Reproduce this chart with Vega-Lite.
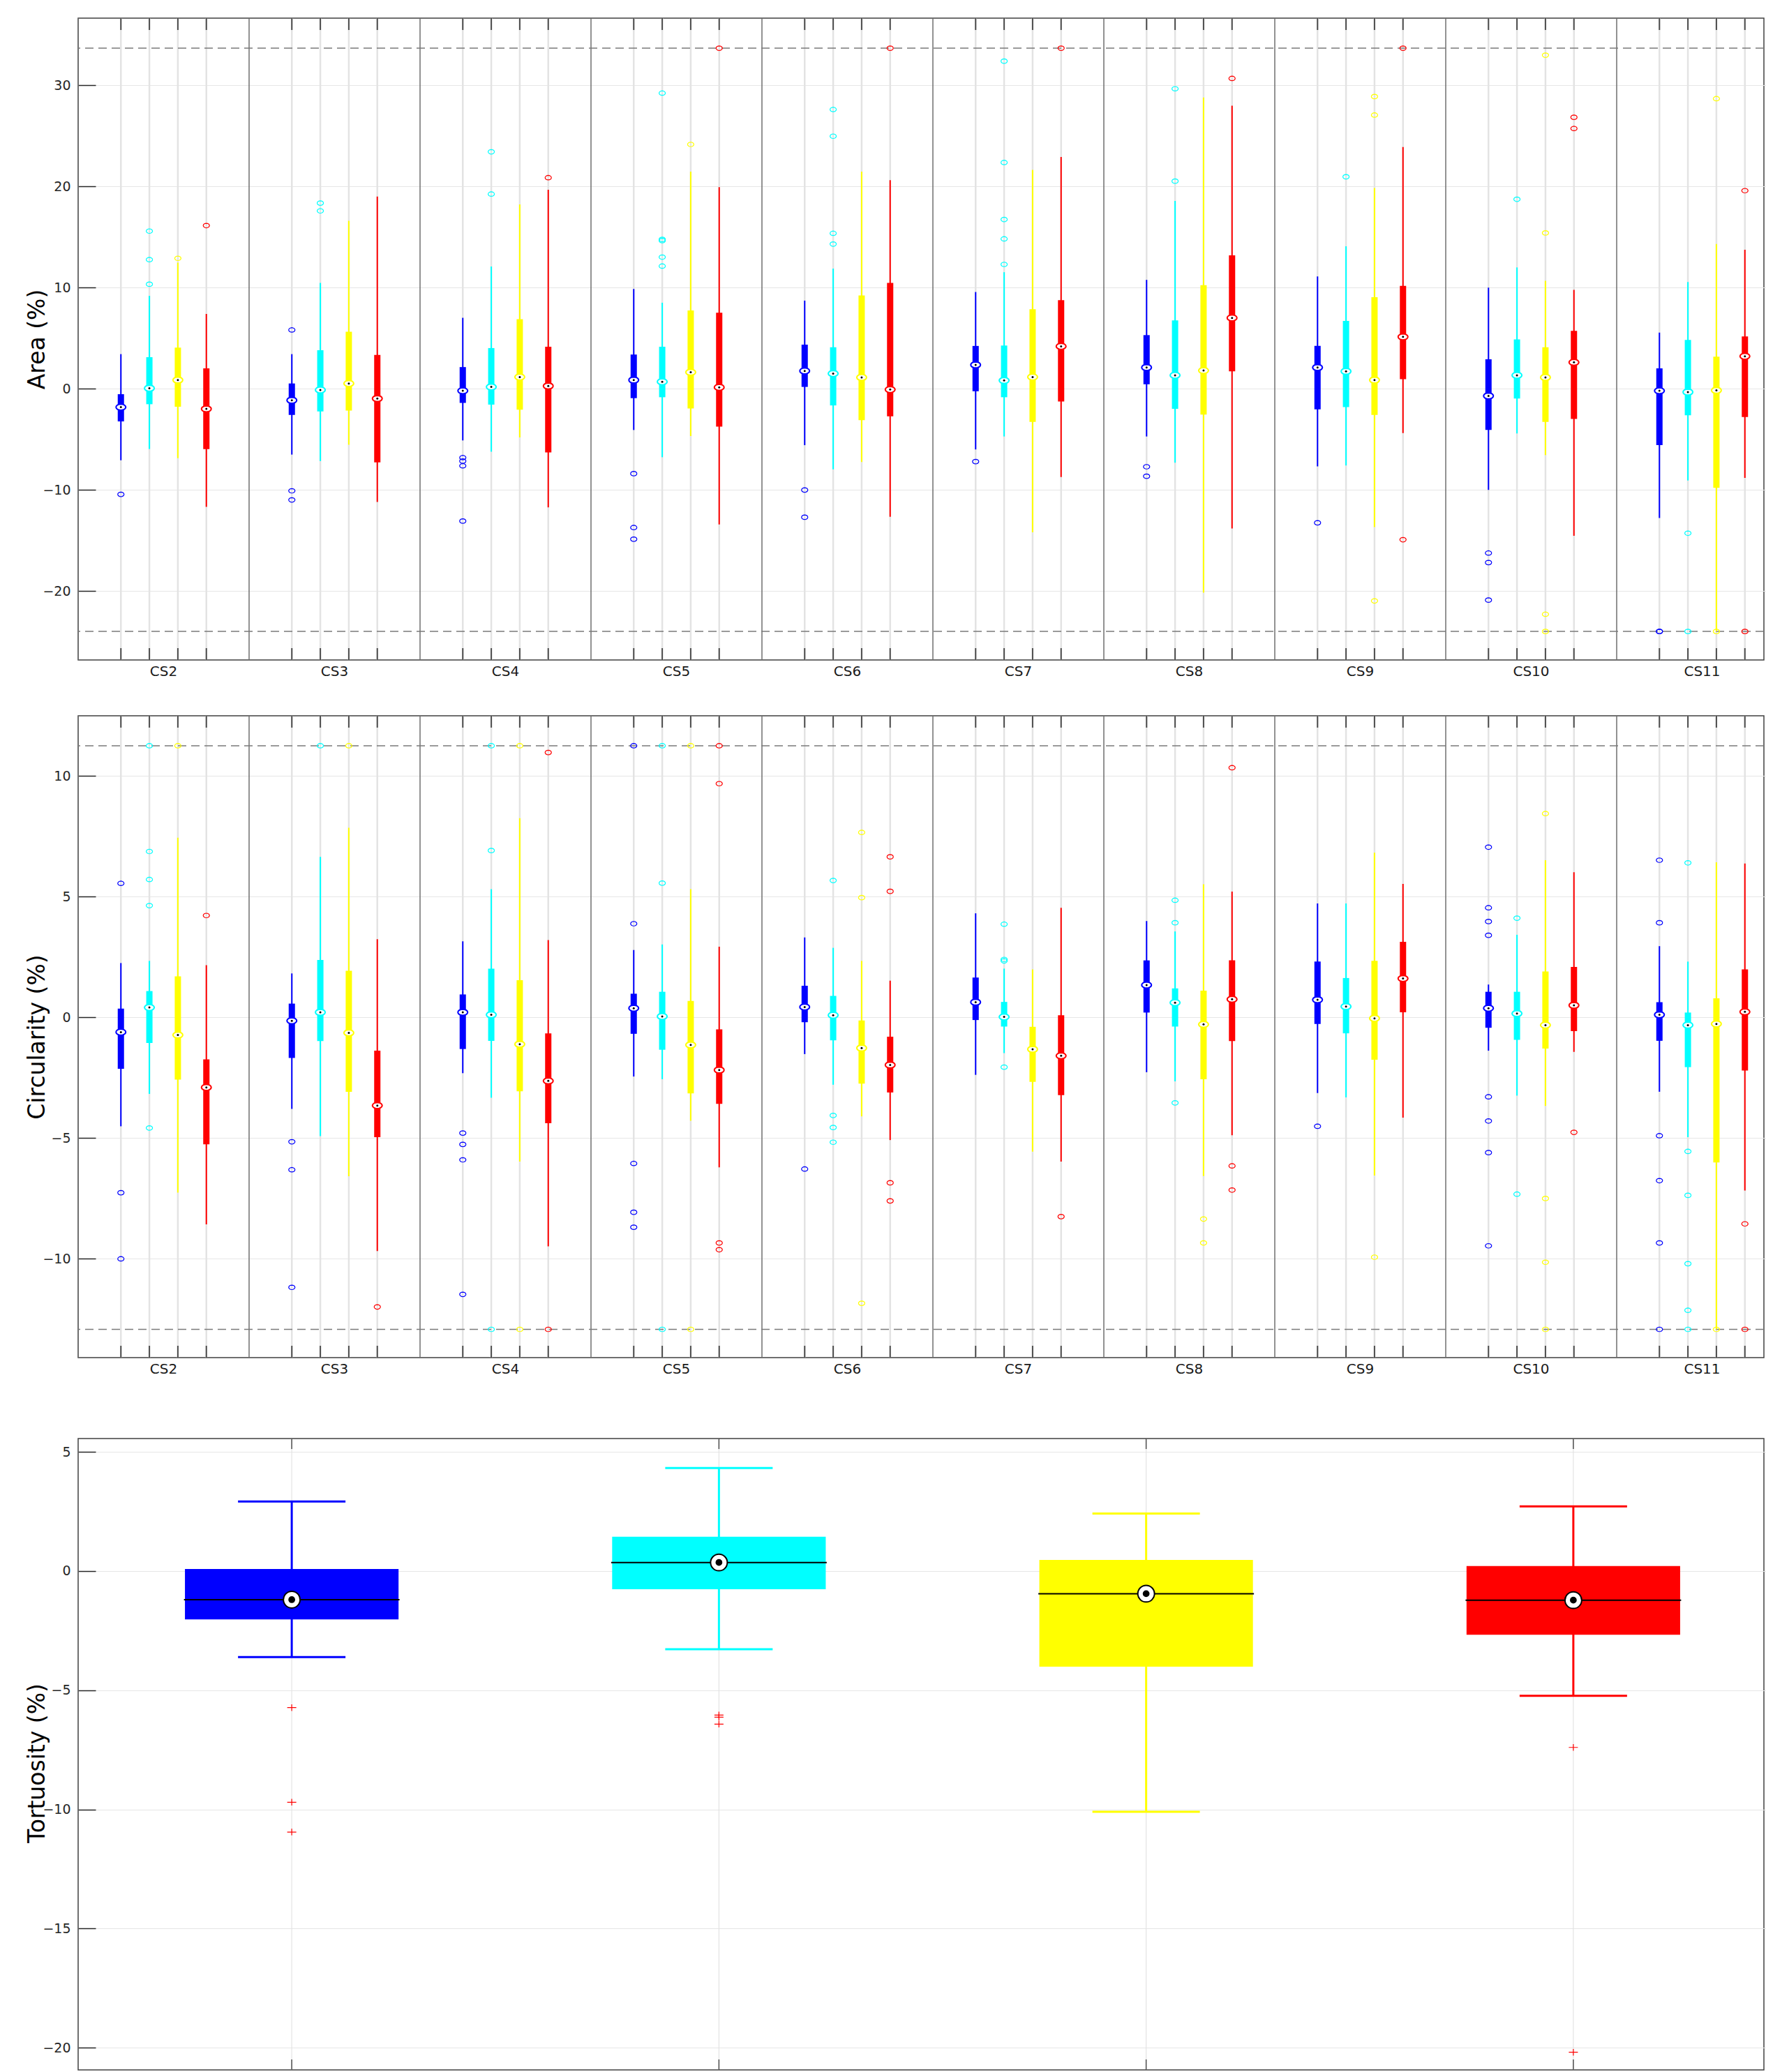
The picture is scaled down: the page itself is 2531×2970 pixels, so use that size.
{
  "$schema": "https://vega.github.io/schema/vega-lite/v6.json",
  "background": "white",
  "padding": {"left": 36, "top": 24, "right": 0, "bottom": 0},
  "config": {
    "font": "DejaVu Sans",
    "view": {"stroke": "#404040", "strokeWidth": 1.5},
    "axis": {"labelColor": "#262626", "titleColor": "#000000", "titleFontWeight": "normal", "labelFont": "DejaVu Sans", "titleFont": "DejaVu Sans"},
    "axisY": {"grid": true, "gridColor": "#e6e6e6", "gridWidth": 1.2, "domain": false, "tickSize": -25, "tickColor": "#262626", "tickWidth": 1.5, "labelFontSize": 19, "labelPadding": 36, "titleFontSize": 33, "titleX": -42},
    "axisX": {"grid": false, "ticks": false, "domain": false, "labelFontSize": 20, "labelPadding": 6, "labelAngle": 0, "labelColor": "#1a1a1a"}
  },
  "datasets": {
    "areaBox": [
      {"cs":"CS2","grp":"g1","lo":-7.08,"q1":-3.24,"med":-1.83,"q3":-0.55,"hi":3.41},
      {"cs":"CS2","grp":"g2","lo":-5.97,"q1":-1.54,"med":0.04,"q3":3.11,"hi":9.17},
      {"cs":"CS2","grp":"g3","lo":-6.87,"q1":-1.79,"med":0.85,"q3":4.05,"hi":12.45},
      {"cs":"CS2","grp":"g4","lo":-11.68,"q1":-5.97,"med":-2.0,"q3":2.0,"hi":7.38},
      {"cs":"CS3","grp":"g1","lo":-6.52,"q1":-2.6,"med":-1.15,"q3":0.51,"hi":3.41},
      {"cs":"CS3","grp":"g2","lo":-7.16,"q1":-2.26,"med":-0.13,"q3":3.8,"hi":10.45},
      {"cs":"CS3","grp":"g3","lo":-5.54,"q1":-2.17,"med":0.51,"q3":5.63,"hi":16.59},
      {"cs":"CS3","grp":"g4","lo":-11.2,"q1":-7.29,"med":-0.98,"q3":3.33,"hi":18.98},
      {"cs":"CS4","grp":"g1","lo":-5.12,"q1":-1.41,"med":-0.21,"q3":2.13,"hi":7.0},
      {"cs":"CS4","grp":"g2","lo":-6.23,"q1":-1.58,"med":0.17,"q3":4.01,"hi":12.07},
      {"cs":"CS4","grp":"g3","lo":-4.82,"q1":-2.09,"med":1.15,"q3":6.87,"hi":18.21},
      {"cs":"CS4","grp":"g4","lo":-11.73,"q1":-6.31,"med":0.26,"q3":4.14,"hi":19.66},
      {"cs":"CS5","grp":"g1","lo":-4.09,"q1":-0.94,"med":0.85,"q3":3.37,"hi":9.85},
      {"cs":"CS5","grp":"g2","lo":-6.78,"q1":-0.85,"med":0.68,"q3":4.14,"hi":8.49},
      {"cs":"CS5","grp":"g3","lo":-4.69,"q1":-1.96,"med":1.62,"q3":7.72,"hi":21.45},
      {"cs":"CS5","grp":"g4","lo":-13.43,"q1":-3.75,"med":0.13,"q3":7.51,"hi":19.91},
      {"cs":"CS6","grp":"g1","lo":-5.59,"q1":0.17,"med":1.75,"q3":4.35,"hi":8.7},
      {"cs":"CS6","grp":"g2","lo":-7.97,"q1":-1.66,"med":1.49,"q3":4.09,"hi":11.86},
      {"cs":"CS6","grp":"g3","lo":-7.25,"q1":-3.11,"med":1.11,"q3":9.21,"hi":21.45},
      {"cs":"CS6","grp":"g4","lo":-12.67,"q1":-2.73,"med":-0.09,"q3":10.45,"hi":20.6},
      {"cs":"CS7","grp":"g1","lo":-6.01,"q1":-0.26,"med":2.35,"q3":4.22,"hi":9.55},
      {"cs":"CS7","grp":"g2","lo":-4.73,"q1":-0.85,"med":0.81,"q3":4.26,"hi":11.51},
      {"cs":"CS7","grp":"g3","lo":-14.2,"q1":-3.28,"med":1.15,"q3":7.85,"hi":21.62},
      {"cs":"CS7","grp":"g4","lo":-8.74,"q1":-1.28,"med":4.18,"q3":8.74,"hi":22.9},
      {"cs":"CS8","grp":"g1","lo":-4.73,"q1":0.43,"med":2.09,"q3":5.29,"hi":10.75},
      {"cs":"CS8","grp":"g2","lo":-7.33,"q1":-2.0,"med":1.32,"q3":6.74,"hi":18.55},
      {"cs":"CS8","grp":"g3","lo":-20.17,"q1":-2.56,"med":1.79,"q3":10.23,"hi":28.78},
      {"cs":"CS8","grp":"g4","lo":-13.82,"q1":1.71,"med":6.99,"q3":13.18,"hi":27.97},
      {"cs":"CS9","grp":"g1","lo":-7.68,"q1":-2.05,"med":2.09,"q3":4.22,"hi":11.09},
      {"cs":"CS9","grp":"g2","lo":-7.59,"q1":-1.83,"med":1.71,"q3":6.7,"hi":14.07},
      {"cs":"CS9","grp":"g3","lo":-13.69,"q1":-2.6,"med":0.85,"q3":9.04,"hi":19.83},
      {"cs":"CS9","grp":"g4","lo":-4.39,"q1":0.94,"med":5.12,"q3":10.15,"hi":23.88},
      {"cs":"CS10","grp":"g1","lo":-10.02,"q1":-4.09,"med":-0.72,"q3":2.9,"hi":9.98},
      {"cs":"CS10","grp":"g2","lo":-4.43,"q1":-0.98,"med":1.32,"q3":4.86,"hi":11.98},
      {"cs":"CS10","grp":"g3","lo":-6.57,"q1":-3.28,"med":1.11,"q3":4.09,"hi":10.66},
      {"cs":"CS10","grp":"g4","lo":-14.54,"q1":-2.99,"med":2.6,"q3":5.71,"hi":9.77},
      {"cs":"CS11","grp":"g1","lo":-12.79,"q1":-5.59,"med":-0.21,"q3":2.0,"hi":5.54},
      {"cs":"CS11","grp":"g2","lo":-9.08,"q1":-2.64,"med":-0.34,"q3":4.82,"hi":10.53},
      {"cs":"CS11","grp":"g3","lo":-24.0,"q1":-9.81,"med":-0.17,"q3":3.16,"hi":14.29},
      {"cs":"CS11","grp":"g4","lo":-8.83,"q1":-2.81,"med":3.2,"q3":5.16,"hi":13.73}
    ],
    "areaOut": [
      {"cs":"CS2","grp":"g1","v":-10.45},
      {"cs":"CS2","grp":"g2","v":15.57},{"cs":"CS2","grp":"g2","v":12.75},{"cs":"CS2","grp":"g2","v":10.32},
      {"cs":"CS2","grp":"g3","v":12.88},
      {"cs":"CS2","grp":"g4","v":16.12},
      {"cs":"CS3","grp":"g1","v":5.8},{"cs":"CS3","grp":"g1","v":-10.1},{"cs":"CS3","grp":"g1","v":-11.0},
      {"cs":"CS3","grp":"g2","v":18.34},{"cs":"CS3","grp":"g2","v":17.57},
      {"cs":"CS4","grp":"g1","v":-6.82},{"cs":"CS4","grp":"g1","v":-7.16},{"cs":"CS4","grp":"g1","v":-7.63},{"cs":"CS4","grp":"g1","v":-13.09},
      {"cs":"CS4","grp":"g2","v":23.41},{"cs":"CS4","grp":"g2","v":19.23},
      {"cs":"CS4","grp":"g4","v":20.85},
      {"cs":"CS5","grp":"g1","v":-8.4},{"cs":"CS5","grp":"g1","v":-13.73},{"cs":"CS5","grp":"g1","v":-14.88},
      {"cs":"CS5","grp":"g2","v":29.21},{"cs":"CS5","grp":"g2","v":14.75},{"cs":"CS5","grp":"g2","v":14.63},{"cs":"CS5","grp":"g2","v":13.0},{"cs":"CS5","grp":"g2","v":12.11},
      {"cs":"CS5","grp":"g3","v":24.14},
      {"cs":"CS5","grp":"g4","v":33.65},
      {"cs":"CS6","grp":"g1","v":-10.02},{"cs":"CS6","grp":"g1","v":-12.71},
      {"cs":"CS6","grp":"g2","v":27.59},{"cs":"CS6","grp":"g2","v":24.95},{"cs":"CS6","grp":"g2","v":15.35},{"cs":"CS6","grp":"g2","v":14.29},
      {"cs":"CS6","grp":"g4","v":33.65},
      {"cs":"CS7","grp":"g1","v":-7.21},
      {"cs":"CS7","grp":"g2","v":32.37},{"cs":"CS7","grp":"g2","v":22.35},{"cs":"CS7","grp":"g2","v":16.72},{"cs":"CS7","grp":"g2","v":14.8},{"cs":"CS7","grp":"g2","v":12.28},
      {"cs":"CS7","grp":"g4","v":33.65},
      {"cs":"CS8","grp":"g1","v":-7.72},{"cs":"CS8","grp":"g1","v":-8.66},
      {"cs":"CS8","grp":"g2","v":29.64},{"cs":"CS8","grp":"g2","v":20.51},
      {"cs":"CS8","grp":"g4","v":30.66},
      {"cs":"CS9","grp":"g1","v":-13.26},
      {"cs":"CS9","grp":"g2","v":20.94},
      {"cs":"CS9","grp":"g3","v":28.87},{"cs":"CS9","grp":"g3","v":27.04},{"cs":"CS9","grp":"g3","v":-20.98},
      {"cs":"CS9","grp":"g4","v":33.65},{"cs":"CS9","grp":"g4","v":-14.93},
      {"cs":"CS10","grp":"g1","v":-16.25},{"cs":"CS10","grp":"g1","v":-17.19},{"cs":"CS10","grp":"g1","v":-20.9},
      {"cs":"CS10","grp":"g2","v":18.72},
      {"cs":"CS10","grp":"g3","v":32.96},{"cs":"CS10","grp":"g3","v":15.39},{"cs":"CS10","grp":"g3","v":-22.3},{"cs":"CS10","grp":"g3","v":-24.0},
      {"cs":"CS10","grp":"g4","v":26.82},{"cs":"CS10","grp":"g4","v":25.71},
      {"cs":"CS11","grp":"g1","v":-24.0},{"cs":"CS11","grp":"g1","v":-24.0},
      {"cs":"CS11","grp":"g2","v":-14.29},{"cs":"CS11","grp":"g2","v":-24.0},
      {"cs":"CS11","grp":"g3","v":28.66},{"cs":"CS11","grp":"g3","v":-24.0},
      {"cs":"CS11","grp":"g4","v":19.57},{"cs":"CS11","grp":"g4","v":-24.0}
    ],
    "areaLim": [{"v":33.65},{"v":-24.0}],
    "circBox": [
      {"cs":"CS2","grp":"g1","lo":-4.51,"q1":-2.13,"med":-0.61,"q3":0.36,"hi":2.25},
      {"cs":"CS2","grp":"g2","lo":-3.17,"q1":-1.06,"med":0.41,"q3":1.09,"hi":2.34},
      {"cs":"CS2","grp":"g3","lo":-7.26,"q1":-2.58,"med":-0.73,"q3":1.7,"hi":7.44},
      {"cs":"CS2","grp":"g4","lo":-8.57,"q1":-5.26,"med":-2.9,"q3":-1.74,"hi":2.16},
      {"cs":"CS3","grp":"g1","lo":-3.79,"q1":-1.68,"med":-0.14,"q3":0.57,"hi":1.82},
      {"cs":"CS3","grp":"g2","lo":-4.92,"q1":-0.98,"med":0.21,"q3":2.38,"hi":6.65},
      {"cs":"CS3","grp":"g3","lo":-6.58,"q1":-3.08,"med":-0.64,"q3":1.93,"hi":7.85},
      {"cs":"CS3","grp":"g4","lo":-9.68,"q1":-4.96,"med":-3.65,"q3":-1.38,"hi":3.24},
      {"cs":"CS4","grp":"g1","lo":-2.31,"q1":-1.31,"med":0.21,"q3":0.95,"hi":3.15},
      {"cs":"CS4","grp":"g2","lo":-3.33,"q1":-0.97,"med":0.11,"q3":2.02,"hi":5.31},
      {"cs":"CS4","grp":"g3","lo":-5.97,"q1":-3.06,"med":-1.11,"q3":1.54,"hi":8.25},
      {"cs":"CS4","grp":"g4","lo":-9.48,"q1":-4.38,"med":-2.63,"q3":-0.66,"hi":3.2},
      {"cs":"CS5","grp":"g1","lo":-2.45,"q1":-0.68,"med":0.38,"q3":0.98,"hi":2.79},
      {"cs":"CS5","grp":"g2","lo":-2.56,"q1":-1.34,"med":0.04,"q3":1.06,"hi":3.02},
      {"cs":"CS5","grp":"g3","lo":-4.28,"q1":-3.15,"med":-1.14,"q3":0.68,"hi":5.31},
      {"cs":"CS5","grp":"g4","lo":-6.21,"q1":-3.58,"med":-2.18,"q3":-0.5,"hi":2.93},
      {"cs":"CS6","grp":"g1","lo":-1.52,"q1":-0.2,"med":0.43,"q3":1.31,"hi":3.31},
      {"cs":"CS6","grp":"g2","lo":-2.79,"q1":-0.95,"med":0.09,"q3":0.89,"hi":2.88},
      {"cs":"CS6","grp":"g3","lo":-4.1,"q1":-2.74,"med":-1.27,"q3":-0.13,"hi":2.34},
      {"cs":"CS6","grp":"g4","lo":-5.08,"q1":-3.11,"med":-1.97,"q3":-0.8,"hi":1.52},
      {"cs":"CS7","grp":"g1","lo":-2.38,"q1":-0.11,"med":0.63,"q3":1.65,"hi":4.31},
      {"cs":"CS7","grp":"g2","lo":-1.48,"q1":-0.38,"med":0.02,"q3":0.64,"hi":2.02},
      {"cs":"CS7","grp":"g3","lo":-5.56,"q1":-2.67,"med":-1.32,"q3":-0.39,"hi":1.99},
      {"cs":"CS7","grp":"g4","lo":-5.97,"q1":-3.22,"med":-1.59,"q3":0.09,"hi":4.54},
      {"cs":"CS8","grp":"g1","lo":-2.27,"q1":0.2,"med":1.34,"q3":2.36,"hi":3.99},
      {"cs":"CS8","grp":"g2","lo":-2.65,"q1":-0.38,"med":0.61,"q3":1.2,"hi":3.56},
      {"cs":"CS8","grp":"g3","lo":-6.57,"q1":-2.56,"med":-0.29,"q3":1.11,"hi":5.51},
      {"cs":"CS8","grp":"g4","lo":-4.88,"q1":-0.98,"med":0.75,"q3":2.36,"hi":5.21},
      {"cs":"CS9","grp":"g1","lo":-3.13,"q1":-0.27,"med":0.73,"q3":2.31,"hi":4.72},
      {"cs":"CS9","grp":"g2","lo":-3.31,"q1":-0.66,"med":0.45,"q3":1.63,"hi":4.72},
      {"cs":"CS9","grp":"g3","lo":-6.55,"q1":-1.75,"med":-0.04,"q3":2.34,"hi":6.82},
      {"cs":"CS9","grp":"g4","lo":-4.15,"q1":0.21,"med":1.61,"q3":3.13,"hi":5.53},
      {"cs":"CS10","grp":"g1","lo":-1.38,"q1":-0.43,"med":0.38,"q3":1.06,"hi":1.36},
      {"cs":"CS10","grp":"g2","lo":-3.24,"q1":-0.93,"med":0.16,"q3":1.06,"hi":3.42},
      {"cs":"CS10","grp":"g3","lo":-3.67,"q1":-1.29,"med":-0.32,"q3":1.9,"hi":6.51},
      {"cs":"CS10","grp":"g4","lo":-1.43,"q1":-0.57,"med":0.5,"q3":2.09,"hi":6.01},
      {"cs":"CS11","grp":"g1","lo":-3.08,"q1":-0.97,"med":0.11,"q3":0.63,"hi":2.95},
      {"cs":"CS11","grp":"g2","lo":-4.96,"q1":-2.06,"med":-0.32,"q3":0.2,"hi":2.31},
      {"cs":"CS11","grp":"g3","lo":-12.92,"q1":-6.01,"med":-0.27,"q3":0.79,"hi":6.42},
      {"cs":"CS11","grp":"g4","lo":-7.17,"q1":-2.2,"med":0.23,"q3":1.99,"hi":6.37}
    ],
    "circOut": [
      {"cs":"CS2","grp":"g1","v":5.55},{"cs":"CS2","grp":"g1","v":-7.26},{"cs":"CS2","grp":"g1","v":-10.0},
      {"cs":"CS2","grp":"g2","v":11.25},{"cs":"CS2","grp":"g2","v":6.87},{"cs":"CS2","grp":"g2","v":5.71},{"cs":"CS2","grp":"g2","v":4.63},{"cs":"CS2","grp":"g2","v":-4.58},
      {"cs":"CS2","grp":"g3","v":11.25},
      {"cs":"CS2","grp":"g4","v":4.22},
      {"cs":"CS3","grp":"g1","v":-5.15},{"cs":"CS3","grp":"g1","v":-6.31},{"cs":"CS3","grp":"g1","v":-11.18},
      {"cs":"CS3","grp":"g2","v":11.25},
      {"cs":"CS3","grp":"g3","v":11.25},
      {"cs":"CS3","grp":"g4","v":-11.99},
      {"cs":"CS4","grp":"g1","v":-4.79},{"cs":"CS4","grp":"g1","v":-5.26},{"cs":"CS4","grp":"g1","v":-5.9},{"cs":"CS4","grp":"g1","v":-11.47},
      {"cs":"CS4","grp":"g2","v":11.25},{"cs":"CS4","grp":"g2","v":6.91},{"cs":"CS4","grp":"g2","v":-12.92},
      {"cs":"CS4","grp":"g3","v":11.25},{"cs":"CS4","grp":"g3","v":-12.92},
      {"cs":"CS4","grp":"g4","v":10.97},{"cs":"CS4","grp":"g4","v":-12.92},
      {"cs":"CS5","grp":"g1","v":11.25},{"cs":"CS5","grp":"g1","v":3.88},{"cs":"CS5","grp":"g1","v":-6.05},{"cs":"CS5","grp":"g1","v":-8.07},{"cs":"CS5","grp":"g1","v":-8.69},
      {"cs":"CS5","grp":"g2","v":11.25},{"cs":"CS5","grp":"g2","v":5.56},{"cs":"CS5","grp":"g2","v":-12.92},
      {"cs":"CS5","grp":"g3","v":11.25},{"cs":"CS5","grp":"g3","v":-12.92},
      {"cs":"CS5","grp":"g4","v":11.25},{"cs":"CS5","grp":"g4","v":9.68},{"cs":"CS5","grp":"g4","v":-9.34},{"cs":"CS5","grp":"g4","v":-9.62},
      {"cs":"CS6","grp":"g1","v":-6.28},
      {"cs":"CS6","grp":"g2","v":5.67},{"cs":"CS6","grp":"g2","v":-4.06},{"cs":"CS6","grp":"g2","v":-4.56},{"cs":"CS6","grp":"g2","v":-5.17},
      {"cs":"CS6","grp":"g3","v":7.66},{"cs":"CS6","grp":"g3","v":4.96},{"cs":"CS6","grp":"g3","v":-11.84},
      {"cs":"CS6","grp":"g4","v":6.65},{"cs":"CS6","grp":"g4","v":5.22},{"cs":"CS6","grp":"g4","v":-6.85},{"cs":"CS6","grp":"g4","v":-7.6},
      {"cs":"CS7","grp":"g2","v":3.86},{"cs":"CS7","grp":"g2","v":2.4},{"cs":"CS7","grp":"g2","v":2.34},{"cs":"CS7","grp":"g2","v":-2.06},
      {"cs":"CS7","grp":"g4","v":-8.25},
      {"cs":"CS8","grp":"g2","v":4.85},{"cs":"CS8","grp":"g2","v":3.92},{"cs":"CS8","grp":"g2","v":-3.54},
      {"cs":"CS8","grp":"g3","v":-8.35},{"cs":"CS8","grp":"g3","v":-9.34},
      {"cs":"CS8","grp":"g4","v":10.34},{"cs":"CS8","grp":"g4","v":-6.15},{"cs":"CS8","grp":"g4","v":-7.15},
      {"cs":"CS9","grp":"g1","v":-4.51},
      {"cs":"CS9","grp":"g3","v":-9.93},
      {"cs":"CS10","grp":"g1","v":7.05},{"cs":"CS10","grp":"g1","v":4.54},{"cs":"CS10","grp":"g1","v":3.97},{"cs":"CS10","grp":"g1","v":3.4},{"cs":"CS10","grp":"g1","v":-3.29},{"cs":"CS10","grp":"g1","v":-4.29},{"cs":"CS10","grp":"g1","v":-5.6},{"cs":"CS10","grp":"g1","v":-9.46},
      {"cs":"CS10","grp":"g2","v":4.11},{"cs":"CS10","grp":"g2","v":-7.32},
      {"cs":"CS10","grp":"g3","v":8.44},{"cs":"CS10","grp":"g3","v":-7.5},{"cs":"CS10","grp":"g3","v":-10.14},{"cs":"CS10","grp":"g3","v":-12.92},
      {"cs":"CS10","grp":"g4","v":-4.76},
      {"cs":"CS11","grp":"g1","v":6.51},{"cs":"CS11","grp":"g1","v":3.92},{"cs":"CS11","grp":"g1","v":-4.9},{"cs":"CS11","grp":"g1","v":-6.76},{"cs":"CS11","grp":"g1","v":-9.34},{"cs":"CS11","grp":"g1","v":-12.92},
      {"cs":"CS11","grp":"g2","v":6.4},{"cs":"CS11","grp":"g2","v":-5.55},{"cs":"CS11","grp":"g2","v":-7.37},{"cs":"CS11","grp":"g2","v":-10.2},{"cs":"CS11","grp":"g2","v":-12.13},{"cs":"CS11","grp":"g2","v":-12.92},
      {"cs":"CS11","grp":"g3","v":-12.92},
      {"cs":"CS11","grp":"g4","v":-8.55},{"cs":"CS11","grp":"g4","v":-12.92}
    ],
    "circLim": [{"v":11.25},{"v":-12.92}],
    "tortBox": [
      {"grp":"g1","lo":-3.61,"q1":-2.03,"med":-1.2,"q3":0.09,"hi":2.92},
      {"grp":"g2","lo":-3.28,"q1":-0.76,"med":0.36,"q3":1.44,"hi":4.32},
      {"grp":"g3","lo":-10.1,"q1":-4.01,"med":-0.95,"q3":0.47,"hi":2.41},
      {"grp":"g4","lo":-5.23,"q1":-2.67,"med":-1.22,"q3":0.21,"hi":2.71}
    ],
    "tortOut": [
      {"grp":"g1","v":-5.73},{"grp":"g1","v":-9.7},{"grp":"g1","v":-10.95},
      {"grp":"g2","v":-6.04},{"grp":"g2","v":-6.13},{"grp":"g2","v":-6.42},
      {"grp":"g4","v":-7.4},{"grp":"g4","v":-20.19}
    ]
  },
  "spacing": 87,
  "vconcat": [
    {
      "spacing": 51,
      "resolve": {"scale": {"xOffset": "independent"}},
      "vconcat": [
        {
          "width": 2416,
          "height": 920,
          "layer": [
            {"data": {"name": "areaBox"}, "mark": {"type": "rule", "color": "#e3e3e3", "strokeWidth": 2.5},
             "encoding": {"x": {"field": "cs", "type": "nominal", "scale": {"domain": ["CS2","CS3","CS4","CS5","CS6","CS7","CS8","CS9","CS10","CS11"], "paddingInner": 0, "paddingOuter": 0, "rangeMax": 2450}, "axis": {"title": null, "labelAngle": 0}},
                          "xOffset": {"field": "grp", "type": "nominal", "scale": {"domain": ["g1","g2","g3","g4"], "paddingInner": 0, "paddingOuter": 1}}}},
            {"data": {"name": "areaBox"}, "transform": [{"filter": "datum.grp === 'g1'"}], "mark": {"type": "rule", "color": "#6e6e6e", "strokeWidth": 1.5},
             "encoding": {"x": {"field": "cs", "type": "nominal", "bandPosition": 0}}},
            {"data": {"name": "areaLim"}, "mark": {"type": "rule", "color": "#7a7a7a", "strokeWidth": 1.5, "strokeDash": [12, 7]},
             "encoding": {"y": {"field": "v", "type": "quantitative"}}},
            {"data": {"name": "areaBox"}, "mark": {"type": "rule", "color": "#4d4d4d", "strokeWidth": 2},
             "encoding": {"x": {"field": "cs", "type": "nominal"}, "xOffset": {"field": "grp", "type": "nominal"}, "y": {"datum": 36.62}, "y2": {"datum": 35.45}}},
            {"data": {"name": "areaBox"}, "mark": {"type": "rule", "color": "#4d4d4d", "strokeWidth": 2},
             "encoding": {"x": {"field": "cs", "type": "nominal"}, "xOffset": {"field": "grp", "type": "nominal"}, "y": {"datum": -26.82}, "y2": {"datum": -25.65}}},
            {"data": {"name": "areaBox"}, "mark": {"type": "rule", "strokeWidth": 2},
             "encoding": {"x": {"field": "cs", "type": "nominal"}, "xOffset": {"field": "grp", "type": "nominal"},
                          "y": {"field": "lo", "type": "quantitative", "scale": {"domain": [-26.82, 36.62], "nice": false, "zero": false}, "axis": {"title": "Area (%)", "values": [-20, -10, 0, 10, 20, 30]}},
                          "y2": {"field": "hi"},
                          "color": {"field": "grp", "type": "nominal", "scale": {"domain": ["g1","g2","g3","g4"], "range": ["#0000ff","#00ffff","#ffff00","#ff0000"]}, "legend": null}}},
            {"data": {"name": "areaBox"}, "mark": {"type": "bar", "size": 9},
             "encoding": {"x": {"field": "cs", "type": "nominal"}, "xOffset": {"field": "grp", "type": "nominal"},
                          "y": {"field": "q1", "type": "quantitative"}, "y2": {"field": "q3"},
                          "color": {"field": "grp", "type": "nominal", "legend": null}}},
            {"data": {"name": "areaOut"}, "mark": {"type": "point", "shape": "M1,0L0.924,0.276L0.707,0.509L0.383,0.665L0,0.72L-0.383,0.665L-0.707,0.509L-0.924,0.276L-1,0L-0.924,-0.276L-0.707,-0.509L-0.383,-0.665L0,-0.72L0.383,-0.665L0.707,-0.509L0.924,-0.276Z", "size": 81, "filled": false, "strokeWidth": 1.2, "opacity": 1},
             "encoding": {"x": {"field": "cs", "type": "nominal"}, "xOffset": {"field": "grp", "type": "nominal"},
                          "y": {"field": "v", "type": "quantitative"},
                          "color": {"field": "grp", "type": "nominal", "legend": null}}},
            {"data": {"name": "areaBox"}, "mark": {"type": "point", "shape": "M1,0L0.924,0.237L0.707,0.438L0.383,0.573L0,0.62L-0.383,0.573L-0.707,0.438L-0.924,0.237L-1,0L-0.924,-0.237L-0.707,-0.438L-0.383,-0.573L0,-0.62L0.383,-0.573L0.707,-0.438L0.924,-0.237Z", "size": 196, "filled": true, "fill": "white", "strokeWidth": 2, "opacity": 1},
             "encoding": {"x": {"field": "cs", "type": "nominal"}, "xOffset": {"field": "grp", "type": "nominal"},
                          "y": {"field": "med", "type": "quantitative"},
                          "stroke": {"field": "grp", "type": "nominal", "scale": {"domain": ["g1","g2","g3","g4"], "range": ["#0000ff","#00ffff","#ffff00","#ff0000"]}, "legend": null}}},
            {"data": {"name": "areaBox"}, "mark": {"type": "point", "shape": "circle", "size": 9, "filled": true, "color": "black", "opacity": 1},
             "encoding": {"x": {"field": "cs", "type": "nominal"}, "xOffset": {"field": "grp", "type": "nominal"},
                          "y": {"field": "med", "type": "quantitative"}}}
          ]
        },
        {
          "width": 2416,
          "height": 920,
          "layer": [
            {"data": {"name": "circBox"}, "mark": {"type": "rule", "color": "#e3e3e3", "strokeWidth": 2.5},
             "encoding": {"x": {"field": "cs", "type": "nominal", "scale": {"domain": ["CS2","CS3","CS4","CS5","CS6","CS7","CS8","CS9","CS10","CS11"], "paddingInner": 0, "paddingOuter": 0, "rangeMax": 2450}, "axis": {"title": null, "labelAngle": 0}},
                          "xOffset": {"field": "grp", "type": "nominal", "scale": {"domain": ["g1","g2","g3","g4"], "paddingInner": 0, "paddingOuter": 1}}}},
            {"data": {"name": "circBox"}, "transform": [{"filter": "datum.grp === 'g1'"}], "mark": {"type": "rule", "color": "#6e6e6e", "strokeWidth": 1.5},
             "encoding": {"x": {"field": "cs", "type": "nominal", "bandPosition": 0}}},
            {"data": {"name": "circLim"}, "mark": {"type": "rule", "color": "#7a7a7a", "strokeWidth": 1.5, "strokeDash": [12, 7]},
             "encoding": {"y": {"field": "v", "type": "quantitative"}}},
            {"data": {"name": "circBox"}, "mark": {"type": "rule", "color": "#4d4d4d", "strokeWidth": 2},
             "encoding": {"x": {"field": "cs", "type": "nominal"}, "xOffset": {"field": "grp", "type": "nominal"}, "y": {"datum": 12.49}, "y2": {"datum": 12.0}}},
            {"data": {"name": "circBox"}, "mark": {"type": "rule", "color": "#4d4d4d", "strokeWidth": 2},
             "encoding": {"x": {"field": "cs", "type": "nominal"}, "xOffset": {"field": "grp", "type": "nominal"}, "y": {"datum": -14.09}, "y2": {"datum": -13.6}}},
            {"data": {"name": "circBox"}, "mark": {"type": "rule", "strokeWidth": 2},
             "encoding": {"x": {"field": "cs", "type": "nominal"}, "xOffset": {"field": "grp", "type": "nominal"},
                          "y": {"field": "lo", "type": "quantitative", "scale": {"domain": [-14.09, 12.49], "nice": false, "zero": false}, "axis": {"title": "Circularity (%)", "values": [-10, -5, 0, 5, 10]}},
                          "y2": {"field": "hi"},
                          "color": {"field": "grp", "type": "nominal", "legend": null}}},
            {"data": {"name": "circBox"}, "mark": {"type": "bar", "size": 9},
             "encoding": {"x": {"field": "cs", "type": "nominal"}, "xOffset": {"field": "grp", "type": "nominal"},
                          "y": {"field": "q1", "type": "quantitative"}, "y2": {"field": "q3"},
                          "color": {"field": "grp", "type": "nominal", "legend": null}}},
            {"data": {"name": "circOut"}, "mark": {"type": "point", "shape": "M1,0L0.924,0.276L0.707,0.509L0.383,0.665L0,0.72L-0.383,0.665L-0.707,0.509L-0.924,0.276L-1,0L-0.924,-0.276L-0.707,-0.509L-0.383,-0.665L0,-0.72L0.383,-0.665L0.707,-0.509L0.924,-0.276Z", "size": 81, "filled": false, "strokeWidth": 1.2, "opacity": 1},
             "encoding": {"x": {"field": "cs", "type": "nominal"}, "xOffset": {"field": "grp", "type": "nominal"},
                          "y": {"field": "v", "type": "quantitative"},
                          "color": {"field": "grp", "type": "nominal", "legend": null}}},
            {"data": {"name": "circBox"}, "mark": {"type": "point", "shape": "M1,0L0.924,0.237L0.707,0.438L0.383,0.573L0,0.62L-0.383,0.573L-0.707,0.438L-0.924,0.237L-1,0L-0.924,-0.237L-0.707,-0.438L-0.383,-0.573L0,-0.62L0.383,-0.573L0.707,-0.438L0.924,-0.237Z", "size": 196, "filled": true, "fill": "white", "strokeWidth": 2, "opacity": 1},
             "encoding": {"x": {"field": "cs", "type": "nominal"}, "xOffset": {"field": "grp", "type": "nominal"},
                          "y": {"field": "med", "type": "quantitative"},
                          "stroke": {"field": "grp", "type": "nominal", "legend": null}}},
            {"data": {"name": "circBox"}, "mark": {"type": "point", "shape": "circle", "size": 9, "filled": true, "color": "black", "opacity": 1},
             "encoding": {"x": {"field": "cs", "type": "nominal"}, "xOffset": {"field": "grp", "type": "nominal"},
                          "y": {"field": "med", "type": "quantitative"}}}
          ]
        }
      ]
    },
    {
      "width": 2416,
      "height": 905,
      "layer": [
        {"data": {"name": "tortBox"}, "mark": {"type": "rule", "color": "#e3e3e3", "strokeWidth": 1.2},
         "encoding": {"x": {"field": "grp", "type": "nominal", "scale": {"domain": ["g1","g2","g3","g4"], "paddingInner": 0, "paddingOuter": 0, "rangeMax": 2449}, "axis": {"title": null, "labels": false}}}},
        {"data": {"name": "tortBox"}, "mark": {"type": "rule", "color": "#4d4d4d", "strokeWidth": 1.5},
         "encoding": {"x": {"field": "grp", "type": "nominal"}, "y": {"datum": 5.56}, "y2": {"datum": 5.12}}},
        {"data": {"name": "tortBox"}, "mark": {"type": "rule", "color": "#4d4d4d", "strokeWidth": 1.5},
         "encoding": {"x": {"field": "grp", "type": "nominal"}, "y": {"datum": -20.93}, "y2": {"datum": -20.49}}},
        {"data": {"name": "tortBox"}, "mark": {"type": "rule", "strokeWidth": 3},
         "encoding": {"x": {"field": "grp", "type": "nominal"},
                      "y": {"field": "lo", "type": "quantitative", "scale": {"domain": [-20.93, 5.56], "nice": false, "zero": false}, "axis": {"title": "Tortuosity (%)", "values": [-20, -15, -10, -5, 0, 5], "titleY": 465}},
                      "y2": {"field": "hi"},
                      "color": {"field": "grp", "type": "nominal", "legend": null}}},
        {"data": {"name": "tortBox"}, "mark": {"type": "tick", "size": 154, "thickness": 3, "opacity": 1},
         "encoding": {"x": {"field": "grp", "type": "nominal"}, "y": {"field": "lo", "type": "quantitative"},
                      "color": {"field": "grp", "type": "nominal", "legend": null}}},
        {"data": {"name": "tortBox"}, "mark": {"type": "tick", "size": 154, "thickness": 3, "opacity": 1},
         "encoding": {"x": {"field": "grp", "type": "nominal"}, "y": {"field": "hi", "type": "quantitative"},
                      "color": {"field": "grp", "type": "nominal", "legend": null}}},
        {"data": {"name": "tortBox"}, "mark": {"type": "bar", "width": {"band": 0.5}},
         "encoding": {"x": {"field": "grp", "type": "nominal"}, "y": {"field": "q1", "type": "quantitative"}, "y2": {"field": "q3"},
                      "color": {"field": "grp", "type": "nominal", "legend": null}}},
        {"data": {"name": "tortBox"}, "mark": {"type": "tick", "size": 309, "thickness": 2, "color": "black", "opacity": 1},
         "encoding": {"x": {"field": "grp", "type": "nominal"}, "y": {"field": "med", "type": "quantitative"}}},
        {"data": {"name": "tortBox"}, "mark": {"type": "point", "shape": "circle", "size": 572, "filled": true, "fill": "white", "stroke": "black", "strokeWidth": 2, "opacity": 1},
         "encoding": {"x": {"field": "grp", "type": "nominal"}, "y": {"field": "med", "type": "quantitative"}}},
        {"data": {"name": "tortBox"}, "mark": {"type": "point", "shape": "circle", "size": 95, "filled": true, "color": "black", "opacity": 1},
         "encoding": {"x": {"field": "grp", "type": "nominal"}, "y": {"field": "med", "type": "quantitative"}}},
        {"data": {"name": "tortOut"}, "mark": {"type": "point", "shape": "M-1,0L1,0M0,-0.73L0,0.73", "size": 169, "filled": false, "stroke": "#ff0000", "strokeWidth": 1.2, "opacity": 1},
         "encoding": {"x": {"field": "grp", "type": "nominal"}, "y": {"field": "v", "type": "quantitative"}}}
      ]
    }
  ]
}
